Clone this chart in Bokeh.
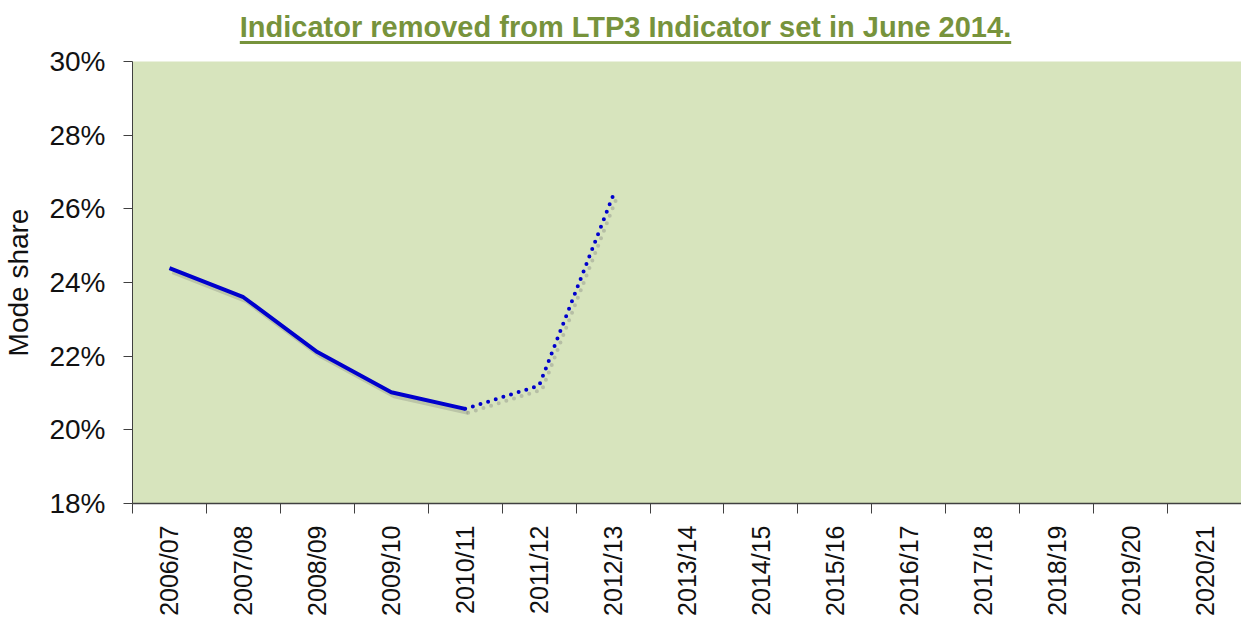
from bokeh.plotting import figure
from bokeh.models import (Range1d, FixedTicker, LinearAxis, PrintfTickFormatter, Div)
from bokeh.layouts import column
from bokeh.embed import file_html
from bokeh.resources import INLINE
from math import pi

# ---- data ----
categories = ["2006/07", "2007/08", "2008/09", "2009/10", "2010/11", "2011/12",
              "2012/13", "2013/14", "2014/15", "2015/16", "2016/17", "2017/18",
              "2018/19", "2019/20", "2020/21"]
actual_years = ["2006/07", "2007/08", "2008/09", "2009/10", "2010/11"]
actual_values = [24.39, 23.60, 22.11, 21.02, 20.57]
provisional_years = ["2010/11", "2011/12", "2012/13"]
provisional_values = [20.57, 21.20, 26.36]
y_ticks = [18, 20, 22, 24, 26, 28, 30]
title_text = "Indicator removed from LTP3 Indicator set in June 2014."
y_label = "Mode share"

FONT = "Liberation Sans"
LINE_BLUE = "#0000CC"
BG = "#D7E4BD"

def xpos(cat):
    return categories.index(cat) + 0.5

ax = [xpos(c) for c in actual_years]
px = [xpos(c) for c in provisional_years]

W, H = 1241, 577
p = figure(width=W, height=H, output_backend="svg", toolbar_location=None,
           x_range=Range1d(0, len(categories)), y_range=Range1d(y_ticks[0], y_ticks[-1]),
           min_border_left=125, min_border_right=0, min_border_top=16, min_border_bottom=119,
           x_axis_type=None, y_axis_type=None)
p.background_fill_color = BG
p.border_fill_color = "white"
p.outline_line_color = None

# y axis
yaxis = LinearAxis(ticker=FixedTicker(ticks=y_ticks),
                   formatter=PrintfTickFormatter(format="%d%%"))
yaxis.axis_label = y_label
yaxis.axis_label_text_font = FONT
yaxis.axis_label_text_font_size = "28px"
yaxis.axis_label_text_font_style = "normal"
yaxis.axis_label_text_color = "#111111"
yaxis.axis_label_standoff = 12
yaxis.major_label_text_font = FONT
yaxis.major_label_text_font_size = "28px"
yaxis.major_label_text_color = "#111111"
yaxis.major_label_standoff = 18
yaxis.major_tick_out = 9
yaxis.major_tick_in = 0
yaxis.major_tick_line_color = "#404040"
yaxis.minor_tick_line_color = None
yaxis.axis_line_color = "#404040"
p.add_layout(yaxis, "left")

# x axis: labels at category centres, ticks at boundaries
centers = [i + 0.5 for i in range(len(categories))]
bounds = [i for i in range(len(categories) + 1)]
xaxis = LinearAxis(ticker=FixedTicker(ticks=centers, minor_ticks=bounds))
xaxis.major_label_overrides = {c: lab for c, lab in zip(centers, categories)}
xaxis.major_label_orientation = pi / 2
xaxis.major_label_text_font = FONT
xaxis.major_label_text_font_size = "25px"
xaxis.major_label_text_color = "#111111"
xaxis.major_label_standoff = 12
xaxis.major_tick_line_color = None
xaxis.major_tick_out = 0
xaxis.major_tick_in = 0
xaxis.minor_tick_out = 10
xaxis.minor_tick_in = 0
xaxis.minor_tick_line_color = "#404040"
xaxis.axis_line_color = "#404040"
xaxis.axis_line_width = 1.5
p.add_layout(xaxis, "below")

p.ygrid.ticker = FixedTicker(ticks=y_ticks)
p.ygrid.grid_line_color = "#333333"
p.ygrid.grid_line_width = 1
p.xgrid.grid_line_color = None

# shadows (cosmetic)
sdx = 3 * len(categories) / 1116.0
sdy = -4 * (y_ticks[-1] - y_ticks[0]) / 442.0
p.line([v + sdx for v in ax], [v + sdy for v in actual_values],
       line_color="#666666", line_alpha=0.25, line_width=4)
p.line([v + sdx for v in px], [v + sdy for v in provisional_values],
       line_color="#777777", line_alpha=0.35, line_width=4,
       line_dash="0 8", line_cap="round")

p.line(ax, actual_values, line_color=LINE_BLUE, line_width=4, line_join="round")
p.line(px, provisional_values, line_color=LINE_BLUE, line_width=4,
       line_dash="0 8", line_cap="round")

title = Div(text=('<div style="text-align:center; width:1241px; margin:0; padding-top:2px; '
                  'font-family: \'Liberation Sans\', Arial, sans-serif; font-size:29px; '
                  'font-weight:bold; color:#77933C; text-decoration:underline; '
                  'text-underline-offset:4px; text-decoration-thickness:3px;">'
                  + title_text + '</div>'),
            width=W, height=35)

layout = column(title, p, spacing=0)
open("out.html", "w").write(file_html(layout, INLINE))
